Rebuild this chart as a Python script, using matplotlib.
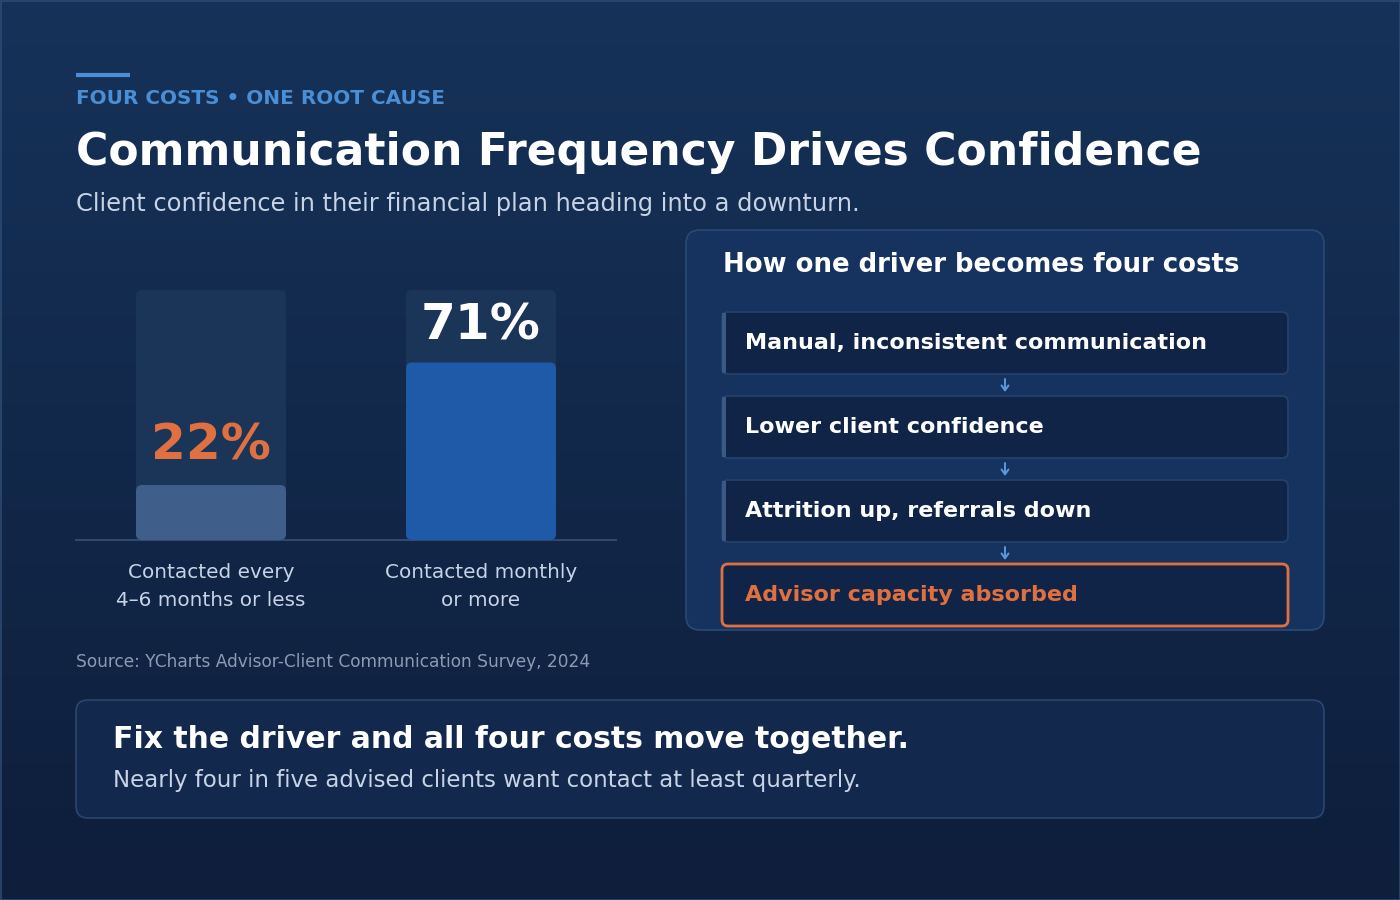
import numpy as np
import matplotlib
matplotlib.use("Agg")
import matplotlib.pyplot as plt
from matplotlib.patches import FancyBboxPatch, Rectangle
from matplotlib.colors import LinearSegmentedColormap

plt.rcParams["font.family"] = ["DejaVu Sans"]

# data
categories = ["Contacted every\n4–6 months or less", "Contacted monthly\nor more"]
confidence = [22, 71]
value_labels = ["22%", "71%"]
steps = ["Manual, inconsistent communication", "Lower client confidence",
         "Attrition up, referrals down", "Advisor capacity absorbed"]

BG_TOP = "#163259"
BG_BOT = "#0e1e3b"
ORANGE = "#e0703f"
ACCENT = "#4a8fd6"
SOFT = "#c8d4e6"

fig = plt.figure(figsize=(14, 9), dpi=100)
ax = fig.add_axes([0, 0, 1, 1])
ax.set_xlim(0, 1400)
ax.set_ylim(900, 0)
ax.axis("off")

# background gradient
grad = np.linspace(0, 1, 256).reshape(-1, 1)
cmap = LinearSegmentedColormap.from_list("bg", [BG_TOP, BG_BOT])
ax.imshow(grad, cmap=cmap, extent=[0, 1400, 900, 0], aspect="auto", zorder=0)
ax.add_patch(Rectangle((0.5, 0.5), 1399, 899, fill=False, ec="#2c4a72", lw=1.2, zorder=1))

# header
ax.plot([76, 130], [75, 75], color=ACCENT, lw=3, solid_capstyle="butt", zorder=2)
ax.text(76, 98, "FOUR COSTS • ONE ROOT CAUSE", color=ACCENT, fontsize=14.4,
        fontweight="bold", va="center", ha="left")
ax.text(76, 153, "Communication Frequency Drives Confidence", color="white",
        fontsize=31.7, fontweight="bold", va="center", ha="left")
ax.text(76, 204, "Client confidence in their financial plan heading into a downturn.",
        color=SOFT, fontsize=17.35, va="center", ha="left")

# bar chart in its own axes: 1 x-unit = 270 px, 1 y-unit = 2.5 px
bax = fig.add_axes([136 / 1400, 1 - 540 / 900, 420 / 1400, 250 / 900])
bax.axis("off")
bax.patch.set_alpha(0)
xpos = np.array([0, 1])
bw = 150 / 270
bax.set_xlim(-bw / 2, 1 + bw / 2)
bax.set_ylim(0, 100)
r = 6 / 270
asp = 270 / 2.5
bar_colors = ["#3f5f8a", "#1f5aa8"]
bars = bax.bar(xpos, confidence, width=bw, color=bar_colors, zorder=2)
for b in bars:
    x0, w, h = b.get_x(), b.get_width(), b.get_height()
    bax.add_patch(FancyBboxPatch((x0, 0), w, 100, boxstyle=f"round,pad=0,rounding_size={r}",
                                 mutation_aspect=asp, fc="#1a3558", ec="none", zorder=1))
    bax.add_patch(FancyBboxPatch((x0, 0), w, h, boxstyle=f"round,pad=0,rounding_size={r}",
                                 mutation_aspect=asp, fc=b.get_facecolor(), ec="none", zorder=2))
    b.set_visible(False)
for x, v, lab in zip(xpos, confidence, value_labels):
    col = ORANGE if v < 50 else "white"
    ypos = v + 16 if v < 50 else v + 15
    bax.text(x, ypos, lab, color=col, fontsize=36, fontweight="bold",
             ha="center", va="center", zorder=3)

ax.plot([76, 616], [540, 540], color="#2e4a70", lw=1.5, zorder=3)
for x, lab in zip([211, 481], categories):
    ax.text(x, 587, lab, color=SOFT, fontsize=14.4, ha="center", va="center",
            linespacing=1.6)
ax.text(76, 662, "Source: YCharts Advisor-Client Communication Survey, 2024",
        color="#8c9bb2", fontsize=12.25, va="center", ha="left")

# right panel
ax.add_patch(FancyBboxPatch((686, 230), 638, 400, boxstyle="round,pad=0,rounding_size=14",
                            fc="#163360", ec="#2a4a76", lw=1.2, zorder=2))
ax.text(723, 265, "How one driver becomes four costs", color="white", fontsize=18.7,
        fontweight="bold", va="center", ha="left", zorder=3)
box_top = [312, 396, 480, 564]
for i, (y0, s) in enumerate(zip(box_top, steps)):
    last = i == len(steps) - 1
    ax.add_patch(FancyBboxPatch((722, y0), 566, 62, boxstyle="round,pad=0,rounding_size=6",
                                fc="#0f2447", ec=ORANGE if last else "#24436c",
                                lw=2 if last else 1.2, zorder=3))
    if not last:
        ax.add_patch(Rectangle((722, y0 + 1), 4, 60, fc="#3a5a85", ec="none", zorder=4))
        ax.annotate("", xy=(1005, y0 + 80), xytext=(1005, y0 + 67),
                    arrowprops=dict(arrowstyle="->,head_length=0.35,head_width=0.25",
                                    color="#5a9ae0", lw=1.4, shrinkA=0, shrinkB=0),
                    zorder=4)
    ax.text(745, y0 + 31, s, color=ORANGE if last else "white", fontsize=16,
            fontweight="bold", va="center", ha="left", zorder=4)

# bottom takeaway
ax.add_patch(FancyBboxPatch((76, 700), 1248, 118, boxstyle="round,pad=0,rounding_size=12",
                            fc="#12294d", ec="#2a4670", lw=1.2, zorder=2))
ax.text(113, 739, "Fix the driver and all four costs move together.", color="white",
        fontsize=21.5, fontweight="bold", va="center", ha="left", zorder=3)
ax.text(113, 781, "Nearly four in five advised clients want contact at least quarterly.",
        color=SOFT, fontsize=16.5, va="center", ha="left", zorder=3)

fig.savefig("out.png", dpi=100, facecolor=BG_BOT)
